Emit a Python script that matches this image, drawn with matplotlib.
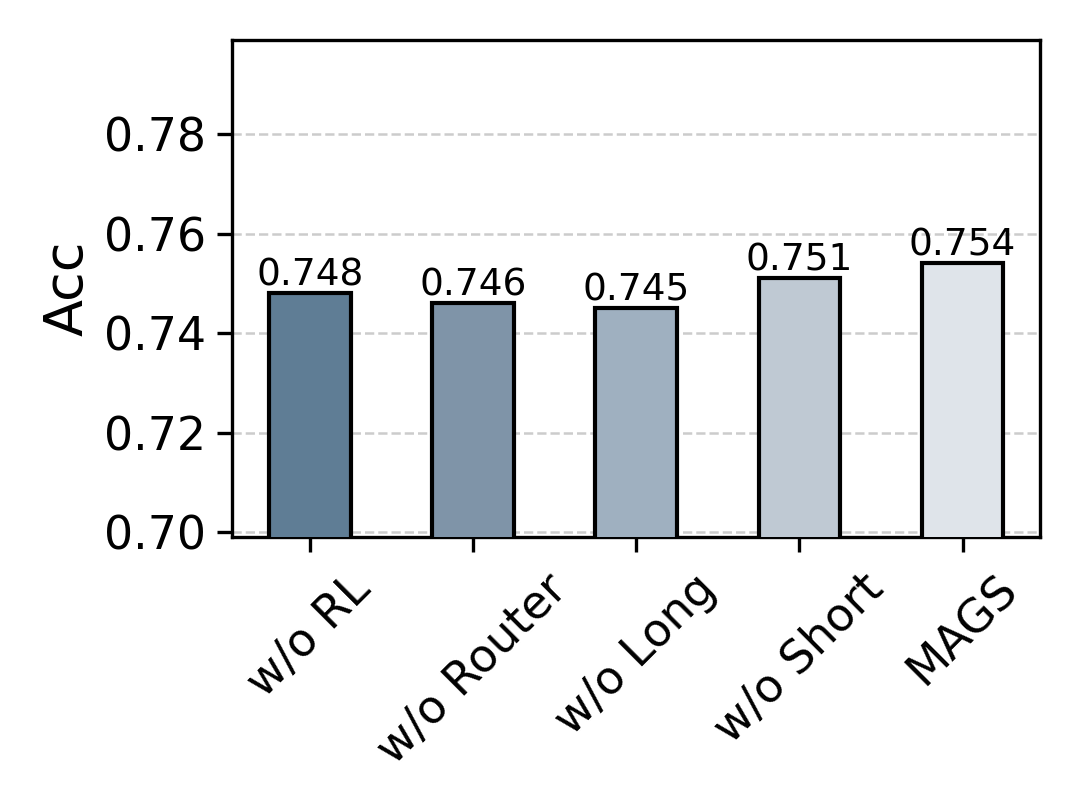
import matplotlib.pyplot as plt
import numpy as np

labels = ['w/o RL', 'w/o Router', 'w/o Long', 'w/o Short', 'MAGS']
acc = [0.748, 0.746, 0.745, 0.751, 0.754]
colors = ['#5f7d95', '#7f94a8', '#9fb0c0', '#bfc9d3', '#dfe4ea']

fig = plt.figure(figsize=(3.6, 2.7), dpi=300)
ax = fig.add_axes([0.215, 0.337, 0.748, 0.614])

x = np.arange(len(labels))
bars = ax.bar(x, acc, width=0.5, color=colors, edgecolor='black', linewidth=1, zorder=3)
for b, v in zip(bars, acc):
    ax.text(b.get_x() + b.get_width() / 2, v, f'{v:.3f}', ha='center', va='bottom', fontsize=9)

ax.set_ylim(0.699, 0.799)
ax.set_yticks([0.70, 0.72, 0.74, 0.76, 0.78])
ax.set_xticks(x)
ax.set_xticklabels(labels, rotation=45, fontsize=11)
ax.tick_params(axis='y', labelsize=11, pad=2.8)
ax.set_ylabel('Acc', fontsize=13, labelpad=2.5)
ax.grid(axis='y', linestyle='--', color='#cccccc', linewidth=0.6, zorder=0)
ax.set_axisbelow(True)

fig.savefig('out.png', dpi=300)
